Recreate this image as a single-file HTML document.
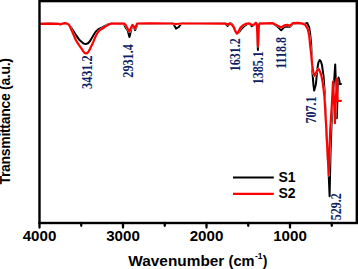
<!DOCTYPE html>
<html><head><meta charset="utf-8"><style>
html,body{margin:0;padding:0;background:#fff;}
body{width:358px;height:269px;overflow:hidden;}
svg{display:block;}
</style></head><body>
<svg width="358" height="269" viewBox="0 0 358 269">
<rect x="0" y="0" width="358" height="269" fill="#fff"/>
<defs><mask id="m" maskUnits="userSpaceOnUse" x="0" y="0" width="358" height="269">
<rect x="0" y="0" width="358" height="269" fill="#fff"/>
<polyline fill="none" stroke="#000" stroke-width="2.4" stroke-linejoin="round" stroke-linecap="round" points="40.5,23.6 50,23.5 58,23.6 60.8,24.1 63,23.3 64.8,23 67,23.4 68.9,24.4 72.5,32.1 76,40.3 79,45 81.7,48.6 83.1,50.9 84.6,52.7 86.1,53.3 87.5,52.7 88.8,50.9 90.2,48.4 92.5,43.6 94,40 96,35.3 98.3,31.4 100,29.8 102.4,28.3 104.5,27 106.6,25.6 108.8,24.2 110.9,23.5 118,23.3 124.3,23.4 125.7,24.9 127.2,27.6 128.5,30 129.4,31.5 131,27.5 132.5,24.6 135.1,28.2 137.2,23.3 150,23.2 170,23.3 176,23.8 182,23.3 200,23.3 225,23.4 227.7,24.2 230.2,23.4 232,24.6 233.6,26.9 235.4,31.2 236.9,33.5 238.3,31.8 239.5,29.2 240.6,27.4 242.9,25.2 245.5,23.7 249.4,23.1 251.7,24.6 254.1,24.4 255.8,22.6 256.8,23.5 257.9,46 258.9,25 259.6,23.4 272.6,23 275.8,24.6 281.1,27.3 284.3,25.1 287.5,24.6 289.8,25.7 292.8,23 298,22.7 302.5,23.5 305.5,24.9 307.7,28.7 309.2,35.4 310.2,45.8 311.4,56 312.2,65 313.5,73.2 314.6,75.7 317.1,70.3 318.7,68.8 321.1,74 322.8,83 324.4,96 326.4,130 328.7,175 329.5,150 330.2,130 331.8,105 333,81.5 334,100 334.9,123 335.8,100 337,78.5 337.5,100.6 341,100.6"/>
</mask></defs>
<g fill="none" stroke-linejoin="round" stroke-linecap="round" stroke-width="2" transform="translate(0,0.2)">
<polyline stroke="#000" stroke-width="2" points="40.5,23.5 50,23.4 58,23.5 61,24 63,23.3 65,23 67,23.4 69,24.5 72.5,29.3 76,35 79.5,39.9 83.5,43.3 85.8,43.9 88,43.1 89.7,41.3 92,37.5 93.9,34.3 96,31.2 98.1,29.3 100,28.3 102.4,27.2 104.5,26 106.6,24.8 108.8,23.9 110.9,23.4 118,23.3 123.8,23.5 125.2,26.6 126.4,28.6 127.8,30.6 128.7,34 129.4,36.8 130.1,34.5 130.9,30 132.3,25.8 132.9,25.2 133.8,26.5 135.1,29.9 136.3,27 137.5,23.5 150,23.2 165,23.3 171,23.2 172.6,22.9 174.2,25 176,28.4 178.8,26.8 180.3,24.7 182.5,22.9 185,23.3 200,23.3 220,23.3 225,23.4 227.7,25.7 230.3,22.8 232.3,24.2 234,26.8 235.6,31.2 237.2,33.3 239,32 240.3,30.2 241.6,28.5 243.8,26.3 246.3,24.4 249.4,23.2 251.7,26 254.1,24.6 255.8,22.6 256.8,23.5 257.9,49.8 258.9,25 259.6,23.4 272.6,23 275.8,25.1 278.5,27.4 281.2,30 284.3,26.9 287.5,26.2 289.8,26.5 292.8,23.5 298,22.9 302.5,23.5 305,23.5 307.2,22.8 309.2,27.2 310.2,33.9 311.1,42.8 311.7,56 312.5,73.2 313.5,85.2 314.2,90.4 315.9,84 317.4,68.3 318.5,62 319.8,59.8 321,61.5 322,65 323.6,76.5 324.7,92 326.3,130 328.5,170 329.6,196 330.6,150 331.5,125 332.3,105 334.2,80 335.2,64.2 336,85 336.8,118 337.6,95 338.5,77.3 339.3,80 339.9,83.9 341,83.9" mask="url(#m)"/>
<polyline stroke="#ff0000" stroke-width="2.2" points="40.5,23.6 50,23.5 58,23.6 60.8,24.1 63,23.3 64.8,23 67,23.4 68.9,24.4 72.5,32.1 76,40.3 79,45 81.7,48.6 83.1,50.9 84.6,52.7 86.1,53.3 87.5,52.7 88.8,50.9 90.2,48.4 92.5,43.6 94,40 96,35.3 98.3,31.4 100,29.8 102.4,28.3 104.5,27 106.6,25.6 108.8,24.2 110.9,23.5 118,23.3 124.3,23.4 125.7,24.9 127.2,27.6 128.5,30 129.4,31.5 131,27.5 132.5,24.6 135.1,28.2 137.2,23.3 150,23.2 170,23.3 176,23.8 182,23.3 200,23.3 225,23.4 227.7,24.2 230.2,23.4 232,24.6 233.6,26.9 235.4,31.2 236.9,33.5 238.3,31.8 239.5,29.2 240.6,27.4 242.9,25.2 245.5,23.7 249.4,23.1 251.7,24.6 254.1,24.4 255.8,22.6 256.8,23.5 257.9,46 258.9,25 259.6,23.4 272.6,23 275.8,24.6 281.1,27.3 284.3,25.1 287.5,24.6 289.8,25.7 292.8,23 298,22.7 302.5,23.5 305.5,24.9 307.7,28.7 309.2,35.4 310.2,45.8 311.4,56 312.2,65 313.5,73.2 314.6,75.7 317.1,70.3 318.7,68.8 321.1,74 322.8,83 324.4,96 326.4,130 328.7,175 329.5,150 330.2,130 331.8,105 333,81.5 334,100 334.9,123 335.8,100 337,78.5 337.5,100.6 341,100.6"/>
</g>
<rect x="39.5" y="1.1" width="317.3" height="221.9" fill="none" stroke="#000" stroke-width="2.4"/>
<g stroke="#000" stroke-width="2.3" stroke-linecap="round"><line x1="39.5" y1="223" x2="39.5" y2="227.6"/><line x1="123" y1="223" x2="123" y2="227.6"/><line x1="206.5" y1="223" x2="206.5" y2="227.6"/><line x1="290" y1="223" x2="290" y2="227.6"/><line x1="81.25" y1="223" x2="81.25" y2="225.8"/><line x1="164.75" y1="223" x2="164.75" y2="225.8"/><line x1="248.25" y1="223" x2="248.25" y2="225.8"/><line x1="331.75" y1="223" x2="331.75" y2="225.8"/></g>
<g font-family="'Liberation Sans', sans-serif" font-weight="bold" font-size="14" fill="#000"><text transform="translate(39.5,240.6) scale(1.08,1)" text-anchor="middle">4000</text><text transform="translate(123,240.6) scale(1.08,1)" text-anchor="middle">3000</text><text transform="translate(206.5,240.6) scale(1.08,1)" text-anchor="middle">2000</text><text transform="translate(290,240.6) scale(1.08,1)" text-anchor="middle">1000</text></g>
<g font-family="'Liberation Sans', sans-serif" font-weight="bold" font-size="13" fill="#000">
<text transform="translate(128.3,266) scale(1.1,1)" font-size="14">Wavenumber</text>
<text transform="translate(228.6,266) scale(1.045,1)" font-size="14">(cm</text>
<text x="254.9" y="258.6" font-size="8.5">-1</text>
<text x="262.8" y="266" font-size="14">)</text>
<text transform="translate(10.3,184.6) rotate(-90)" font-size="14" letter-spacing="-0.3">Transmittance (a.u.)</text>
<text x="278.4" y="182" font-size="14">S1</text>
<text x="278.4" y="198.4" font-size="14">S2</text>
</g>
<line x1="233" y1="177.5" x2="273.8" y2="177.5" stroke="#000" stroke-width="2.2"/>
<line x1="233" y1="193.9" x2="273.8" y2="193.9" stroke="#ff0000" stroke-width="2.2"/>
<g font-family="'Liberation Serif', serif" font-weight="bold" font-size="12" fill="#0b2163">
<text x="0" y="0" font-size="12.2" transform="translate(87.6,72.2) rotate(-90) scale(1,1.13)" text-anchor="middle" dy="0.34em">3431.2</text>
<text x="0" y="0" font-size="12.2" transform="translate(128.3,60.9) rotate(-90) scale(1,1.13)" text-anchor="middle" dy="0.34em">2931.4</text>
<text x="0" y="0" font-size="12" transform="translate(235.0,54.7) rotate(-90) scale(1,1.13)" text-anchor="middle" dy="0.34em">1631.2</text>
<text x="0" y="0" font-size="12" transform="translate(258.2,67.8) rotate(-90) scale(1,1.13)" text-anchor="middle" dy="0.34em">1385.1</text>
<text x="0" y="0" font-size="12" transform="translate(281.4,52.9) rotate(-90) scale(1,1.13)" text-anchor="middle" dy="0.34em">1118.8</text>
<text x="0" y="0" font-size="12" transform="translate(311.2,110.0) rotate(-90) scale(1,1.13)" text-anchor="middle" dy="0.34em">707.1</text>
<text x="0" y="0" font-size="12" transform="translate(336.1,206.8) rotate(-90) scale(1,1.13)" text-anchor="middle" dy="0.34em">529.2</text>
</g>
</svg>
</body></html>
